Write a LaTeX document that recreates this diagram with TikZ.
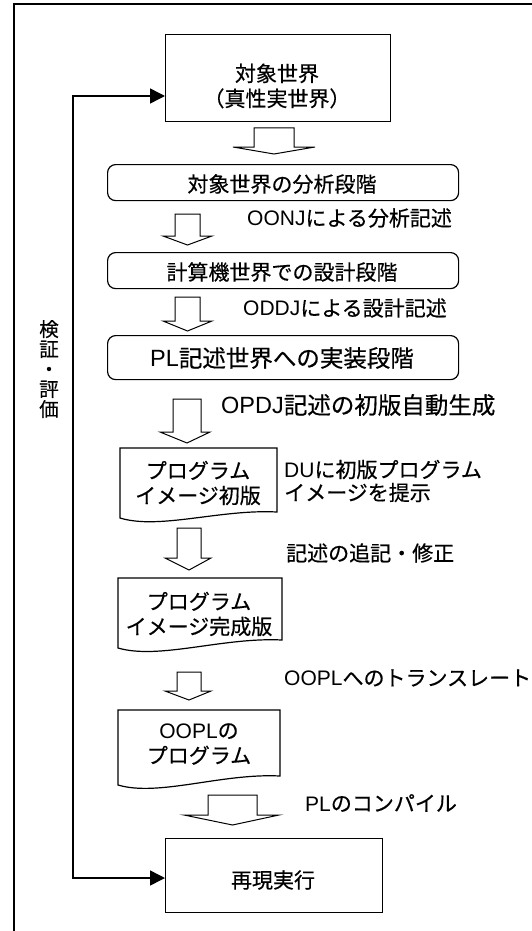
\documentclass[tikz,border=0pt]{standalone}
\usepackage{fontspec}
\setmainfont{Noto Sans CJK JP}[FakeBold=0.5]
\newfontfamily\lat{Liberation Sans}
\usetikzlibrary{arrows.meta}
\newcommand\barr[7]{\draw[barrow] (#1,#5) -- (#2,#5) -- (#2,#6) -- (#4,#6) -- ({(#1+#2)/2},#7) -- (#3,#6) -- (#1,#6) -- cycle;}
\newcommand\docshape[5]{\draw[boxline] (#1,#3) -- (#2,#3) -- (#2,#5) .. controls ({#1+0.64*(#2-#1)},{#5-3}) and ({#1+0.25*(#2-#1)},{#4+12}) .. (#1,#4) -- cycle;}
\begin{document}
\begin{tikzpicture}[x=1pt,y=-1pt,
  boxline/.style={draw, line width=1.2pt, line join=miter},
  box/.style={draw, line width=1.2pt, inner sep=0pt, anchor=north west},
  barrow/.style={draw, line width=1pt, fill=white, line join=miter},
  txt/.style={inner sep=0pt, font=\fontsize{21}{25}\selectfont, align=center},
  bigtxt/.style={inner sep=0pt, font=\fontsize{23.5}{28}\selectfont, align=center},
  lbl/.style={inner sep=0pt, anchor=west, font=\fontsize{21}{23}\selectfont, align=left},
  vtxt/.style={inner sep=0pt, font=\fontsize{19.5}{20}\selectfont, align=center},
  fb/.style={line width=1.5pt, {Triangle[length=15pt,width=15pt]}-{Triangle[length=15pt,width=15pt]}}
]
\useasboundingbox (0,0) rectangle (532,931);
\clip (0,0) rectangle (532,931);
% outer frame
\draw[line width=1.3pt] (14,945) -- (14,4) -- (545,4);
% boxes
\node[box, minimum width=225pt, minimum height=87pt] (b1) at (165,34) {};
\node[txt] (t1) at (277,86) {対象世界\\（真性実世界）};
\node[box, rounded corners=8pt, minimum width=351pt, minimum height=36pt] (b2) at (107,164) {};
\node[txt] (t2) at (282,184) {対象世界の分析段階};
\node[box, rounded corners=8pt, minimum width=351pt, minimum height=36pt] (b3) at (107,252) {};
\node[txt] (t3) at (282,272) {計算機世界での設計段階};
\node[box, rounded corners=8pt, minimum width=351pt, minimum height=44pt] (b4) at (107,335) {};
\node[bigtxt] (t4) at (282,358) {{\lat PL}記述世界への実装段階};
\node[box, minimum width=217pt, minimum height=74pt] (b7) at (165,838) {};
\node[txt] (t7) at (273,880) {再現実行};
% document shapes
\docshape{120}{277}{448}{518}{512}
\node[txt] (d1) at (198,483) {プログラム\\イメージ初版};
\docshape{118}{282}{578}{648}{640}
\node[txt] (d2) at (199,614) {プログラム\\イメージ完成版};
\docshape{118}{280}{710}{785}{776}
\node[txt] (d3) at (199,744) {{\lat OOPL}の\\プログラム};
% block arrows
\barr{254}{294}{233}{315}{128}{147}{154}
\barr{175}{200}{163}{212}{214}{236}{245}
\barr{175}{200}{163}{212}{297}{321}{331}
\barr{173}{201}{160}{210}{399}{432}{443}
\barr{177}{201}{165}{211}{528}{558}{570}
\barr{177}{201}{165}{211}{672}{691}{700}
\barr{208}{257}{184}{279}{795}{815}{825}
% labels
\node[lbl] (l1) at (247,218) {{\lat OONJ}による分析記述};
\node[lbl] (l2) at (243,308) {{\lat ODDJ}による設計記述};
\node[lbl, font=\fontsize{23.5}{28}\selectfont] (l3) at (221,405) {{\lat OPDJ}記述の初版自動生成};
\node[lbl] (l4) at (284,481) {{\lat DU}に初版プログラム\\イメージを提示};
\node[lbl] (l5) at (286,553) {記述の追記・修正};
\node[lbl] (l6) at (284,678) {{\lat OOPL}へのトランスレート};
\node[lbl] (l7) at (305,803) {{\lat PL}のコンパイル};
% feedback
\coordinate (fbt) at (73,96);
\coordinate (fbb) at (73,878);
\draw[fb] (b1.west |- fbt) -- (fbt) -- (fbb) -- (b7.west |- fbb);
% vertical label
\node[vtxt] (v) at (49,369) {検\\証\\・\\評\\価};
\end{tikzpicture}
\end{document}
